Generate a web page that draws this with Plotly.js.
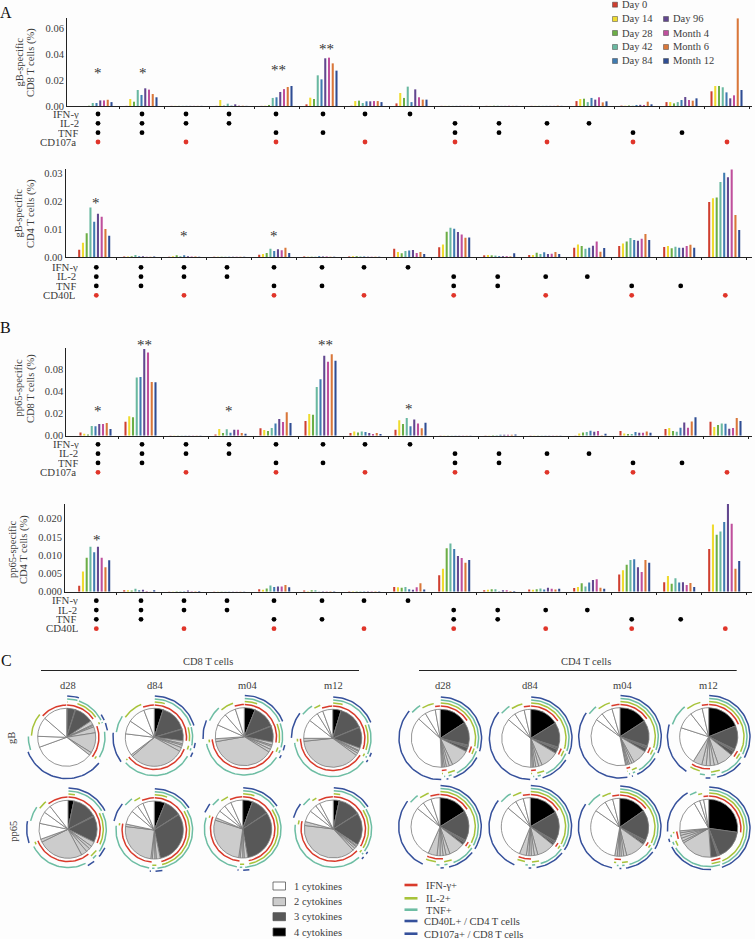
<!DOCTYPE html>
<html><head><meta charset="utf-8">
<script src="https://cdn.plot.ly/plotly-3.0.1.min.js"></script>
<style>html,body{margin:0;padding:0;background:#fdfdfd}</style></head>
<body><div id="chart"></div>
<script>
const seriesNames=["Day 0","Day 14","Day 28","Day 42","Day 84","Day 96","Month 4","Month 6","Month 12"];
const seriesColors=["#cf3f30","#efdb2f","#6cae46","#69b8a0","#3f7bb0","#62478f","#bf4f9c","#d9773a","#2f4d93"];
// functional patterns of the 15 groups: IFN-γ, IL-2, TNF, CD107a/CD40L
const groupCodes=["1111","1110","1101","1100","1011","1010","1001","1000","0111","0110","0101","0100","0011","0010","0001"];
const rowLabelsCD8=["IFN-γ","IL-2","TNF","CD107a"];
const rowLabelsCD4=["IFN-γ","IL-2","TNF","CD40L"];

// Bar values in units of 0.001 %, one row per group, one column per time point
const gBCD8=[
[0,0,.2,2.3,2.3,4.3,4.3,4.8,3],
[.1,5.4,3.3,12.3,8.5,13.6,12.6,9.2,6.7],
[.1,.1,.1,.1,.1,.1,.1,.1,.1],
[.1,4.6,.3,1.8,.3,1.3,.3,.2,.1],
[.1,.2,.8,6.2,6.7,10.8,13,14.6,15.4],
[1.3,6.4,5.4,23.6,20.5,36.7,37.2,32.8,27.2],
[.2,3.8,4.1,2.3,3.6,3.6,3.8,3.8,3],
[2,10,6.2,14.9,3,12.8,6.7,4.9,4.9],
[.1,.1,.1,.1,.1,.1,.1,.1,.1],
[.1,.1,.2,.2,.1,.1,.2,.1,.1],
[.1,.1,.1,.1,.1,.1,.1,.3,.1],
[3.8,5.4,5.6,3,6.2,4.9,6.7,2.8,3.6],
[.3,.2,.4,.2,.8,.9,.8,3.3,1.3],
[3,3,2,3,4.6,6.9,4.6,4.1,5.9],
[11.3,15.4,15.4,14.4,10.5,5.9,8.2,67.4,12.3]];
const gBCD4=[
[2.6,5.1,8.5,17.7,12.6,15.4,14.4,10,7.6],
[.2,.2,.3,.7,.3,.3,.1,.1,.2],
[.1,.3,.6,.3,.6,.3,.2,.2,.1],
[.05,.05,.05,.05,.05,.05,.05,.05,.05],
[.8,1.1,1.4,2.9,2.1,2.8,2.4,3.3,1.4],
[.2,.1,.1,.1,.3,.2,.2,.1,.1],
[.2,.3,.3,.2,.2,.1,.1,.1,.1],
[2.9,1.8,1.3,2.1,2.3,2.5,1.4,1.8,1.1],
[3.5,4.5,9,10.4,10.1,8.9,8,6.9,7],
[.6,.7,.6,.5,.3,.3,.3,.2,1.3],
[.7,.7,1.5,1.1,1.7,1.1,1.2,1.8,1.1],
[3.3,4.5,3.9,2.9,3.3,4,5.5,1.9,3.2],
[3.9,4.8,5.5,6.8,6.1,5.8,6.5,8.2,6.1],
[3.6,3.9,3.1,3.7,3.3,3.3,3.9,4.4,3.3],
[19.6,21,21.2,26.8,30.1,28.5,31.2,15,9.6]];
const pp65CD8=[
[3,1.8,1.2,8.8,8.5,10.6,10.6,11.5,6],
[12.7,17.6,16.7,53,53.3,78.8,75.5,48.8,48.5],
[.2,.2,.2,.2,.2,.2,.2,.2,.2],
[1.2,6,2.4,5.8,2.7,5.5,5.5,2.4,1.8],
[6.7,5.2,4.2,7,11.2,15.2,12.4,21.2,11.5],
[13.3,19.7,19,44.2,51.2,72.7,67.3,74,68.2],
[2.4,3.9,3,3.9,3.3,2.4,1.5,2.4,1.5],
[5.5,14,10.6,16,8.5,14.8,11.2,6.7,11.8],
[.1,.1,.1,.1,.1,.1,.1,.1,.1],
[.1,.1,.3,.3,.8,.9,.9,.9,1.1],
[.1,.1,.1,.1,.1,.1,.1,.1,.1],
[.1,2,3,3.3,4.5,3.6,4.2,.3,1.8],
[4.2,2.1,1.5,1.5,3.3,2.7,2.7,3.9,2.7],
[6,7,4.2,3.6,7.3,12.1,7.3,13,16.7],
[12.7,7.9,9.7,11.2,10.9,6.4,7,16,13.3]];
const pp65CD4=[
[1.6,5.5,9.3,12.3,10.8,12.3,9.3,6.7,8.6],
[.4,.4,.3,.8,.4,.5,.2,.05,.4],
[.05,.05,.1,.1,.1,.3,.1,.1,.2],
[.05,.05,.05,.05,.05,.05,.05,.05,.05],
[.7,.5,.9,1.7,1.3,1.4,1.4,1.8,1.2],
[.3,.1,.4,.4,.05,.1,.1,.1,.1],
[.1,.1,.1,.1,.1,.1,.1,.1,.1],
[1.3,1.2,1.1,1.3,.7,.5,1.2,2.3,.6],
[4.5,6.3,11.9,13.2,11.7,9.8,9.2,7.9,8.7],
[.4,.5,.7,.7,.1,.4,.4,.2,.2],
[.6,.5,.7,.9,.6,1.1,.8,.6,.8],
[1,1.3,2.3,1.4,2.5,3.2,3.4,1.1,.8],
[4.7,5.9,7.4,8.7,8.9,6.7,5.4,8.7,7.9],
[2.6,4.3,2.2,3.7,2.5,2.6,1.8,2.4,1.3],
[11.7,18.4,15.6,16.5,19.1,24,18.6,6.3,8.4]];

const ticksA1=[0,.02,.04,.06], tickTextA1=["0.00","0.02","0.04","0.06"];
const ticksA2=[0,.01,.02,.03], tickTextA2=["0.00","0.01","0.02","0.03"];
const ticksB1=[0,.02,.04,.06], tickTextB1=["0.00","0.02","0.04","0.08"];
const ticksB2=[0,.005,.01,.015,.02], tickTextB2=["0.000","0.005","0.010","0.015","0.020"];

// dot column positions (page px) per group
const dotXCD8=[98,142,186,229,276,323,365,410,455,499,547,589,633,682,727];
const dotXCD4=[96.3,141,184,227,274,322,364,408,453.7,497.7,545.7,587.3,631.7,680.7,725.3];

const panels=[
 {data:gBCD8,tv:ticksA1,tt:tickTextA1,max:.0677,axisX:67,start:74,top:18,base:106,dotX:dotXCD8,rows:[114,123.3,133,142],labels:rowLabelsCD8,labelEnd:[80,80,79,77],
  title:["gB-specific","CD8 T cells (%)"],titleX:[18.5,31],titleY:62,
  stars:[[98,71,"*"],[142.7,71,"*"],[278,68,"**"],[326,47,"**"]]},
 {data:gBCD4,tv:ticksA2,tt:tickTextA2,max:.0314,axisX:65.7,start:71.7,top:169,base:257,dotX:dotXCD4,rows:[267.3,276.7,286.3,295.3],labels:rowLabelsCD4,labelEnd:[79,77,77,76],
  title:["gB-specific","CD4 T cells (%)"],titleX:[18.5,31],titleY:213,
  stars:[[96,200.7,"*"],[184,234,"*"],[274,234,"*"]]},
 {data:pp65CD8,tv:ticksB1,tt:tickTextB1,max:.0797,axisX:66.3,start:73,top:348,base:435.7,dotX:dotXCD8,rows:[444.3,453.7,463.3,472.3],labels:rowLabelsCD8,labelEnd:[80,79,79,77],
  title:["pp65-specific","CD8 T cells (%)"],titleX:[18.5,31],titleY:388,
  stars:[[98,409,"*"],[144,343,"**"],[229,409,"*"],[325,343,"**"],[409,407,"*"]]},
 {data:pp65CD4,tv:ticksB2,tt:tickTextB2,max:.024,axisX:65,start:71.7,top:504,base:591.7,dotX:dotXCD4,rows:[600.7,610,619.7,628.7],labels:rowLabelsCD4,labelEnd:[79,78,77,78.7],
  title:["pp65-specific","CD4 T cells (%)"],titleX:[12,24],titleY:550,
  stars:[[97,537.7,"*"]]}
];

// SPICE pies: slice angles (deg, clockwise from top). Slice order = sliceCodes.
const sliceCodes=["1111","0111","1011","1101","1110","0011","0101","0110","1001","1010","1100","0001","0010","0100","1000"];
const cd8gB=[[2,0,15,1,38,8,2,3,12,41,6,122,22,39,49],[18,0,55,1,23,6,3,5,8,110,4,44,27,35,21],[22,0,46,1,32,6,3,6,6,138,6,28,25,23,18],[17,0,50,1,42,5,2,4,5,138,6,38,20,12,20]];
const cd8pp65=[[12,0,50,2,52,10,6,8,12,92,6,32,24,16,38],[22,0,35,1,110,8,3,5,3,90,5,28,15,12,23],[20,0,36,1,113,7,3,5,3,100,5,15,14,14,24],[12,0,45,1,65,3,2,4,5,140,8,23,15,9,28]];
const cd4gB=[[57,47,2,3,8,38,7,6,4,3,3,134,17,21,10],[58,50,2,3,8,36,7,6,4,3,3,130,17,20,13],[57,52,2,3,7,30,5,5,3,3,2,137,16,22,16],[68,48,2,3,8,32,8,8,8,9,18,76,34,25,13]];
const cd4pp65=[[58,60,2,3,5,32,8,6,6,6,18,105,16,17,18],[60,60,2,3,4,36,7,6,5,5,14,108,20,16,14],[55,62,2,3,4,40,6,5,4,4,5,115,25,16,14],[98,60,2,2,14,64,4,6,6,5,4,65,12,8,10]];
const pieCentersCD8gB=[[66.7,737.3],[154.3,737.3],[244.3,736.7],[332.7,738.3]];
const pieCentersCD8pp65=[[68,829.3],[154.3,830],[242.7,829],[333.3,829]];
const pieCentersCD4gB=[[440.3,738.3],[530.7,738.3],[620,736.7],[708.7,736.7]];
const pieCentersCD4pp65=[[440,826.7],[530.3,826.7],[619.7,827.3],[708.7,828.3]];
const cytokineColors={1:"#ffffff",2:"#cccccc",3:"#585858",4:"#000000"};
const ringColors=["#d93a2b","#a7c33a","#6dbda3","#35509b"];
const ringRadii=[32.2,35.3,38.3,41.3];
const columnLabels=["d28","d84","m04","m12"];
const legendCytokines=["1 cytokines","2 cytokines","3 cytokines","4 cytokines"];
const legendFunctions=["IFN-γ+","IL-2+","TNF+","CD40L+ / CD4 T cells","CD107a+ / CD8 T cells"];

const W=755,H=939,R=29,FONT="Liberation Serif",INK="#3c3c3c";
const px=v=>v/W, py=v=>1-v/H;
const traces=[],annotations=[],shapes=[];
const layout={width:W,height:H,margin:{l:0,r:0,t:0,b:0},paper_bgcolor:"#fdfdfd",plot_bgcolor:"rgba(0,0,0,0)",
 showlegend:false,barmode:"group",bargap:.25,bargroupgap:.45,font:{family:FONT,size:10.5,color:INK},annotations,shapes};
function label(x,y,text,o={}){annotations.push(Object.assign({xref:"paper",yref:"paper",x:px(x),y:py(y),text,showarrow:false,xanchor:"center",yanchor:"middle",
  borderpad:0,font:{family:FONT,size:10.5,color:INK}},o));}

panels.forEach((p,i)=>{
 const n=i+1, xa=n===1?"x":"x"+n, ya=n===1?"y":"y"+n, da="y"+(n+10);
 const xr=[(p.axisX-p.start)/45,(752-p.start)/45];
 layout["xaxis"+(n===1?"":n)]={domain:[px(p.axisX),px(752)],range:xr,anchor:ya,tickmode:"array",tickvals:groupCodes.map((c,g)=>g+1),showticklabels:false,
   ticks:"outside",ticklen:2,tickcolor:"#222",tickwidth:1,showline:true,linecolor:"#222",linewidth:1,showgrid:false,zeroline:false,fixedrange:true};
 layout["yaxis"+(n===1?"":n)]={domain:[py(p.base),py(p.top)],range:[0,p.max],anchor:xa,tickmode:"array",tickvals:p.tv,ticktext:p.tt,ticks:"",
   showline:true,linecolor:"#222",linewidth:1,showgrid:false,zeroline:false,fixedrange:true,tickfont:{family:FONT,size:10.5,color:INK}};
 const rh=(p.rows[3]-p.rows[0])/3;
 layout["yaxis"+(n+10)]={domain:[py(p.rows[3]+rh/2),py(p.rows[0]-rh/2)],range:[3.5,-.5],anchor:"free",position:0,visible:false,fixedrange:true};
 seriesNames.forEach((name,s)=>{
  traces.push({type:"bar",name,x:p.data.map((r,g)=>g+.5),y:p.data.map(r=>r[s]*.001),xaxis:xa,yaxis:ya,marker:{color:seriesColors[s],line:{width:0}},hoverinfo:"skip"});
 });
 const dx=[],dy=[],dc=[];
 groupCodes.forEach((code,g)=>{[...code].forEach((b,r)=>{if(b==="1"){dx.push((p.dotX[g]-p.start)/45);dy.push(r);dc.push(r===3?"#e0352a":"#000");}});});
 traces.push({type:"scatter",mode:"markers",x:dx,y:dy,xaxis:xa,yaxis:da,marker:{size:4.8,color:dc},cliponaxis:false,hoverinfo:"skip"});
 p.labels.forEach((t,r)=>label(p.labelEnd[r],p.rows[r],t,{xanchor:"right",height:8.5,font:{family:FONT,size:10.8,color:INK}}));
 p.title.forEach((t,k)=>label(p.titleX[k],p.titleY,t,{textangle:-90}));
 p.stars.forEach(s=>label(s[0],s[1]+2,s[2],{font:{family:FONT,size:15,color:"#333"}}));
});

// overlay axes in page pixels for the ring arcs around the pies
layout.xaxis9={domain:[0,1],range:[0,W],visible:false,fixedrange:true,anchor:"y9"};
layout.yaxis9={domain:[0,1],range:[H,0],visible:false,fixedrange:true,anchor:"x9"};
const arcX=[[],[],[],[]],arcY=[[],[],[],[]];
function addPie(values,c){
 const colors=sliceCodes.map(code=>cytokineColors[[...code].filter(b=>b==="1").length]);
 traces.push({type:"pie",values,sort:false,direction:"clockwise",rotation:0,textinfo:"none",hoverinfo:"skip",
  domain:{x:[px(c[0]-R),px(c[0]+R)],y:[py(c[1]+R),py(c[1]-R)]},marker:{colors,line:{color:"#7a7a7a",width:.8}}});
 const total=values.reduce((a,b)=>a+b,0);
 for(let ring=0;ring<4;ring++){
  let a=0,start=null;
  const flush=end=>{
    const s=start+.7,e=Math.max(end-.7,s+.8);
    for(let t=0;t<=Math.ceil((e-s)/3);t++){const th=(s+(e-s)*t/Math.ceil((e-s)/3))*Math.PI/180;
      arcX[ring].push(c[0]+ringRadii[ring]*Math.sin(th));arcY[ring].push(c[1]-ringRadii[ring]*Math.cos(th));}
    arcX[ring].push(null);arcY[ring].push(null);start=null;};
  sliceCodes.forEach((code,i)=>{
    const w=values[i]/total*360;
    if(code[ring]==="1"&&w>0){if(start===null)start=a;}
    else if(w>0&&start!==null)flush(a);
    a+=w;});
  if(start!==null)flush(a);
 }
}
[[cd8gB,pieCentersCD8gB],[cd8pp65,pieCentersCD8pp65],[cd4gB,pieCentersCD4gB],[cd4pp65,pieCentersCD4pp65]].forEach(([vals,cs])=>vals.forEach((v,i)=>addPie(v,cs[i])));
ringColors.forEach((col,ring)=>traces.push({type:"scatter",mode:"lines",x:arcX[ring],y:arcY[ring],xaxis:"x9",yaxis:"y9",line:{color:col,width:1.5},hoverinfo:"skip",connectgaps:false}));

// panel letters and section headers
[["A",6,13],["B",5,327],["C",6,660]].forEach(l=>label(l[1],l[2],l[0],{font:{family:FONT,size:16,color:"#111"}}));
label(207.7,661.7,"CD8 T cells");label(586.3,661.7,"CD4 T cells");
shapes.push({type:"line",xref:"paper",yref:"paper",x0:px(41),x1:px(359),y0:py(670.5),y1:py(670.5),line:{color:"#222",width:1}});
shapes.push({type:"line",xref:"paper",yref:"paper",x0:px(419),x1:px(736.7),y0:py(670.5),y1:py(670.5),line:{color:"#222",width:1}});
[67.7,155.3,247.7,333.3].forEach((x,i)=>label(x,685,columnLabels[i]));
[442.7,530,622.3,708].forEach((x,i)=>label(x,685,columnLabels[i]));
label(11,738,"gB",{textangle:-90});label(12.7,831,"pp65",{textangle:-90});

// bar legend
const legendPos=[[615,4.7],[615,19],[615,33],[615,47],[615,61],[666,19],[666,33],[666,47],[666,61]];
seriesNames.forEach((s,i)=>{const [x,y]=legendPos[i];
 shapes.push({type:"rect",xref:"paper",yref:"paper",x0:px(x-2.5),x1:px(x+2.5),y0:py(y+2.5),y1:py(y-2.5),fillcolor:seriesColors[i],line:{color:"#444",width:.5}});
 label(x+6,y,s,{xanchor:"left",font:{family:FONT,size:10.5,color:INK}});});

// bottom legends
[886,901.7,916.7,932].forEach((y,i)=>{
 shapes.push({type:"rect",xref:"paper",yref:"paper",x0:px(273),x1:px(285.5),y0:py(y+4),y1:py(y-4),fillcolor:cytokineColors[i+1],line:{color:"#555",width:.8}});
 label(292.7,y,legendCytokines[i],{xanchor:"left"});});
[[885,425,0],[898.3,425,1],[909.7,425,2],[921,422.7,3],[933.7,422.7,3]].forEach((r,i)=>{
 shapes.push({type:"line",xref:"paper",yref:"paper",x0:px(404.5),x1:px(417.5),y0:py(r[0]),y1:py(r[0]),line:{color:ringColors[r[2]],width:2.6}});
 label(r[1],r[0]+.5,legendFunctions[i],{xanchor:"left"});});

Plotly.newPlot("chart",traces,layout,{displayModeBar:false,staticPlot:true});
</script></body></html>
